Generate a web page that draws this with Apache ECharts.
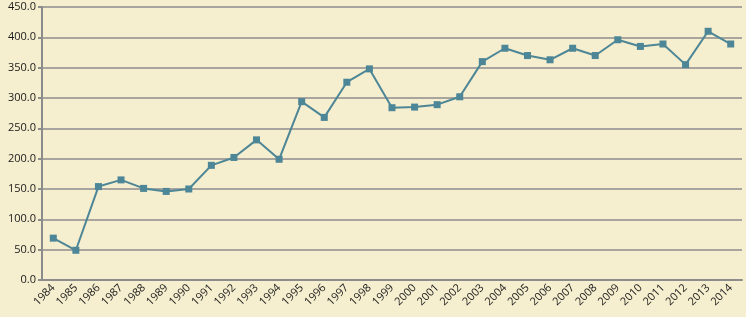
<!DOCTYPE html>
<html>
<head>
<meta charset="utf-8">
<script src="https://cdn.jsdelivr.net/npm/echarts@6/dist/echarts.min.js"></script>
<style>
  html, body { margin: 0; padding: 0; background: #f5eecf; }
  #chart { width: 746px; height: 317px; }
</style>
</head>
<body>
<div id="chart"></div>
<script>
const years = [];
for (let y = 1984; y <= 2014; y++) years.push(String(y));

const values = [
  69, 49, 154, 165, 151, 146, 150, 189, 202, 231,
  199, 294, 268, 326, 348, 284, 285, 289, 302, 360,
  382, 370, 363, 382, 370, 396, 385, 389, 355, 410,
  389
];

const axisGrey = '#8c8c8c';
const lineColor = '#4d8696';

const chart = echarts.init(document.getElementById('chart'));

chart.setOption({
  backgroundColor: '#f5eecf',
  animation: false,
  grid: { left: 42, right: 4, top: 7, bottom: 37 },
  xAxis: {
    type: 'category',
    data: years,
    boundaryGap: true,
    axisLine: { lineStyle: { color: axisGrey, width: 2 } },
    axisTick: { length: 4, lineStyle: { color: axisGrey, width: 2 } },
    axisLabel: {
      rotate: 45,
      interval: 0,
      margin: 6,
      color: '#1a1a1a',
      fontSize: 11,
      fontFamily: 'Open Sans'
    },
    splitLine: { show: false }
  },
  yAxis: {
    type: 'value',
    min: 0,
    max: 450,
    interval: 50,
    axisLine: { show: true, lineStyle: { color: axisGrey, width: 2 } },
    axisTick: { show: true, length: 4, lineStyle: { color: axisGrey, width: 2 } },
    axisLabel: {
      formatter: v => v.toFixed(1),
      color: '#1a1a1a',
      fontSize: 11,
      fontFamily: 'Open Sans',
      margin: 6
    },
    splitLine: { lineStyle: { color: axisGrey, width: 1.5 } }
  },
  series: [{
    type: 'line',
    data: values,
    symbol: 'rect',
    symbolSize: 7,
    itemStyle: { color: lineColor },
    lineStyle: { color: lineColor, width: 2 }
  }]
});
</script>
</body>
</html>
